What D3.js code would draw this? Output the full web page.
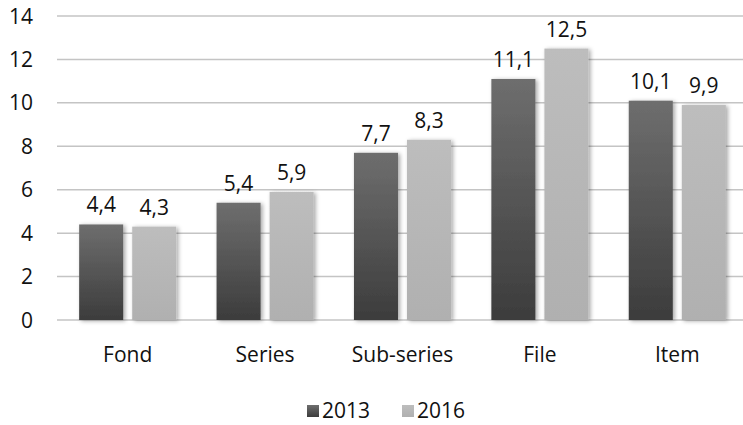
<!DOCTYPE html>
<html>
<head>
<meta charset="utf-8">
<script src="https://cdn.jsdelivr.net/npm/d3@7"></script>
<style>
  body { margin: 0; background: #fff; }
  text { font-family: "Open Sans", "Liberation Sans", sans-serif; fill: #111; }
</style>
</head>
<body>
<div id="chart"></div>
<script>
var categories = ["Fond", "Series", "Sub-series", "File", "Item"];
var seriesNames = ["2013", "2016"];
var values2013 = [4.4, 5.4, 7.7, 11.1, 10.1];
var values2016 = [4.3, 5.9, 8.3, 12.5, 9.9];
var yTicks = [0, 2, 4, 6, 8, 10, 12, 14];

var width = 743, height = 425;

var svg = d3.select("#chart").append("svg")
  .attr("width", width)
  .attr("height", height);

var defs = svg.append("defs");
// bars are shaded darker at the bottom
var g1 = defs.append("linearGradient").attr("id", "grad2013")
  .attr("x1", 0).attr("y1", 0).attr("x2", 0).attr("y2", 1);
g1.append("stop").attr("offset", "0%").attr("stop-color", "#6e6e6e");
g1.append("stop").attr("offset", "100%").attr("stop-color", "#3c3c3c");
var g2 = defs.append("linearGradient").attr("id", "grad2016")
  .attr("x1", 0).attr("y1", 0).attr("x2", 0).attr("y2", 1);
g2.append("stop").attr("offset", "0%").attr("stop-color", "#bdbdbd");
g2.append("stop").attr("offset", "100%").attr("stop-color", "#b0b0b0");

var shadow = defs.append("filter").attr("id", "shadow")
  .attr("x", "-20%").attr("y", "-10%").attr("width", "150%").attr("height", "130%");
shadow.append("feDropShadow").attr("dx", 2).attr("dy", 1)
  .attr("stdDeviation", 2).attr("flood-color", "#000").attr("flood-opacity", 0.35);

var x = d3.scaleBand().domain(categories).range([59, 746]).paddingInner(0).paddingOuter(0);
var xs = d3.scaleBand().domain(seriesNames).range([0, x.bandwidth()]).paddingInner(0.17).paddingOuter(0.38);
var y = d3.scaleLinear().domain([0, 14]).range([320, 16]);

// gridlines
svg.append("g").selectAll("line").data(yTicks).enter().append("line")
  .attr("x1", 57).attr("x2", width)
  .attr("y1", function(d) { return y(d); })
  .attr("y2", function(d) { return y(d); })
  .attr("stroke", "#c4c4c4").attr("stroke-width", 1.5);

// y tick labels
svg.append("g").selectAll("text").data(yTicks).enter().append("text")
  .attr("x", 33).attr("y", function(d) { return y(d); })
  .attr("dy", "0.36em").attr("text-anchor", "end")
  .attr("font-size", 21)
  .text(function(d) { return d; });

var rows = categories.map(function(c, i) {
  return { cat: c, vals: [values2013[i], values2016[i]] };
});

var groups = svg.append("g").selectAll("g").data(rows).enter().append("g")
  .attr("transform", function(d) { return "translate(" + x(d.cat) + ",0)"; });

groups.selectAll("rect").data(function(d) {
  return d.vals.map(function(v, j) { return { s: seriesNames[j], v: v }; });
}).enter().append("rect")
  .attr("x", function(d) { return xs(d.s); })
  .attr("width", xs.bandwidth())
  .attr("y", function(d) { return y(d.v); })
  .attr("height", function(d) { return y(0) - y(d.v); })
  .attr("fill", function(d) { return "url(#grad" + d.s + ")"; })
  .attr("filter", "url(#shadow)");

groups.selectAll("text.val").data(function(d) {
  return d.vals.map(function(v, j) { return { s: seriesNames[j], v: v }; });
}).enter().append("text")
  .attr("class", "val")
  .attr("x", function(d) { return xs(d.s) + xs.bandwidth() / 2; })
  .attr("y", function(d) { return y(d.v) - 12; })
  .attr("text-anchor", "middle")
  .attr("font-size", 21)
  .text(function(d) { return String(d.v).replace(".", ","); });

// category labels
svg.append("g").selectAll("text").data(categories).enter().append("text")
  .attr("x", function(d) { return x(d) + x.bandwidth() / 2; })
  .attr("y", 362)
  .attr("text-anchor", "middle")
  .attr("font-size", 21)
  .text(function(d) { return d; });

// legend
var legend = svg.append("g").attr("transform", "translate(307,418)");
var legX = [0, 95];
seriesNames.forEach(function(s, i) {
  legend.append("rect")
    .attr("x", legX[i]).attr("y", -13)
    .attr("width", 12).attr("height", 12)
    .attr("fill", "url(#grad" + s + ")");
  legend.append("text")
    .attr("x", legX[i] + 15).attr("y", 0)
    .attr("font-size", 21)
    .text(s);
});
</script>
</body>
</html>
